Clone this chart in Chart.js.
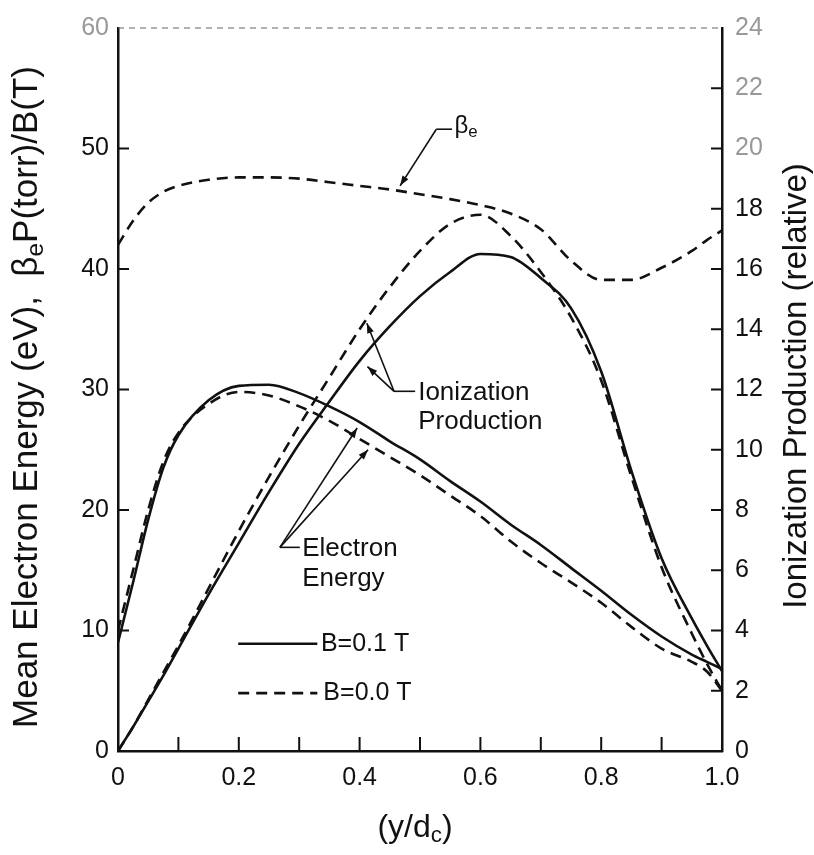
<!DOCTYPE html>
<html>
<head>
<meta charset="utf-8">
<script src="https://cdn.jsdelivr.net/npm/chart.js@4.4.1/dist/chart.umd.min.js"></script>
<style>
html, body { margin: 0; padding: 0; background: #fff; }
#wrap { width: 814px; height: 855px; }
</style>
</head>
<body>
<div id="wrap"><canvas id="chart" width="814" height="855"></canvas></div>
<script>
// positions across the channel, y/d_c
var xPos = [0, 0.025, 0.05, 0.075, 0.1, 0.15, 0.2, 0.25, 0.3, 0.35, 0.4, 0.45, 0.5, 0.55, 0.6, 0.65, 0.7, 0.75, 0.8, 0.85, 0.9, 0.95, 0.975, 1.0];

// beta_e P/B (left axis)
var betaE = [42.0, 44.0, 45.5, 46.4, 46.9, 47.4, 47.6, 47.6, 47.5, 47.2, 46.9, 46.6, 46.2, 45.8, 45.3, 44.6, 43.3, 40.7, 39.1, 39.1, 40.1, 41.5, 42.4, 43.2];

// mean electron energy, eV (left axis)
var eeB01 = [9.0, 14.0, 19.2, 23.5, 26.2, 29.1, 30.3, 30.4, 29.7, 28.6, 27.3, 25.7, 24.2, 22.4, 20.7, 18.8, 17.1, 15.2, 13.3, 11.3, 9.5, 8.0, 7.4, 6.8];
var eeB00 = [10.0, 15.0, 20.0, 24.0, 26.4, 28.8, 29.8, 29.5, 28.6, 27.4, 25.9, 24.4, 22.9, 21.2, 19.5, 17.4, 15.6, 14.0, 12.3, 10.3, 8.5, 7.4, 6.6, 5.0];

// ionization production, relative (right axis)
var ionB01 = [0, 0.8, 1.65, 2.5, 3.4, 5.2, 6.9, 8.6, 10.2, 11.6, 12.95, 14.1, 15.1, 15.9, 16.5, 16.4, 15.7, 14.7, 12.6, 9.3, 6.4, 4.4, 3.5, 2.65];
var ionB00 = [0, 0.8, 1.7, 2.6, 3.5, 5.4, 7.3, 9.1, 10.8, 12.4, 14.0, 15.4, 16.6, 17.5, 17.8, 17.1, 15.9, 14.4, 12.3, 9.1, 6.1, 3.9, 2.9, 2.0];

var legendLabels = ["B=0.1 T", "B=0.0 T"];

var FONT = "'Liberation Sans', Arial, Helvetica, sans-serif";
var INK = "#111";
var DASH = [11, 7];

function pts(ys) {
	return xPos.map(function(x, i) { return { x: x, y: ys[i] }; });
}

function line(ys, axis, dashed) {
	return {
		data: pts(ys),
		yAxisID: axis,
		borderColor: INK,
		borderWidth: 2.6,
		borderDash: dashed ? DASH : [],
		pointRadius: 0,
		fill: false,
		cubicInterpolationMode: 'monotone'
	};
}

// text with subscripts: parts = [[text, isSub], ...]
function richWidth(ctx, parts, size) {
	var w = 0;
	parts.forEach(function(p) {
		ctx.font = (p[1] ? size * 0.7 : size) + "px " + FONT;
		w += ctx.measureText(p[0]).width;
	});
	return w;
}
function drawRich(ctx, parts, x, y, size) {
	parts.forEach(function(p) {
		ctx.font = (p[1] ? size * 0.7 : size) + "px " + FONT;
		ctx.fillText(p[0], x, p[1] ? y + size * 0.25 : y);
		x += ctx.measureText(p[0]).width;
	});
}

function arrow(ctx, x1, y1, x2, y2) {
	ctx.beginPath();
	ctx.moveTo(x1, y1);
	ctx.lineTo(x2, y2);
	ctx.stroke();
	var a = Math.atan2(y2 - y1, x2 - x1), L = 10, W = 3.5;
	ctx.beginPath();
	ctx.moveTo(x2, y2);
	ctx.lineTo(x2 - L * Math.cos(a) + W * Math.sin(a), y2 - L * Math.sin(a) - W * Math.cos(a));
	ctx.lineTo(x2 - L * Math.cos(a) - W * Math.sin(a), y2 - L * Math.sin(a) + W * Math.cos(a));
	ctx.closePath();
	ctx.fill();
}

var decorations = {
	id: 'decorations',
	afterDraw: function(chart) {
		var ctx = chart.ctx, a = chart.chartArea;
		var sx = chart.scales.x, sy = chart.scales.y, s2 = chart.scales.y2;
		var X = function(v) { return sx.getPixelForValue(v); };
		var Y = function(v) { return sy.getPixelForValue(v); };
		ctx.save();

		// inward tick marks
		ctx.strokeStyle = INK;
		ctx.lineWidth = 2;
		ctx.beginPath();
		for (var i = 1; i < 10; i++) {
			var p = X(i / 10);
			ctx.moveTo(p, a.bottom); ctx.lineTo(p, a.bottom - 14);
		}
		for (var v = 10; v < 60; v += 10) {
			var q = Y(v);
			ctx.moveTo(a.left, q); ctx.lineTo(a.left + 11, q);
		}
		for (var w = 2; w < 24; w += 2) {
			var r = s2.getPixelForValue(w);
			ctx.moveTo(a.right, r); ctx.lineTo(a.right - 11, r);
		}
		ctx.stroke();

		// faint dashed top frame
		ctx.setLineDash([6, 5]);
		ctx.lineWidth = 1.2;
		ctx.strokeStyle = "#666";
		ctx.beginPath();
		ctx.moveTo(a.left, a.top); ctx.lineTo(a.right, a.top);
		ctx.stroke();
		ctx.setLineDash([]);

		// legend
		ctx.strokeStyle = INK;
		ctx.fillStyle = INK;
		ctx.lineWidth = 2.6;
		ctx.textBaseline = 'middle';
		ctx.textAlign = 'left';
		ctx.beginPath();
		ctx.moveTo(X(0.199), Y(8.9)); ctx.lineTo(X(0.330), Y(8.9));
		ctx.stroke();
		ctx.setLineDash(DASH);
		ctx.beginPath();
		ctx.moveTo(X(0.199), Y(4.8)); ctx.lineTo(X(0.330), Y(4.8));
		ctx.stroke();
		ctx.setLineDash([]);
		ctx.font = "25px " + FONT;
		ctx.fillText(legendLabels[0], X(0.336), Y(8.9));
		ctx.fillText(legendLabels[1], X(0.340), Y(4.8));

		// curve labels with leaders
		ctx.lineWidth = 1.6;
		ctx.font = "26px " + FONT;
		ctx.fillText("Ionization", X(0.497), Y(29.7));
		ctx.fillText("Production", X(0.497), Y(27.3));
		ctx.beginPath();
		ctx.moveTo(X(0.457), Y(29.85)); ctx.lineTo(X(0.492), Y(29.85));
		ctx.stroke();
		arrow(ctx, X(0.457), Y(29.85), X(0.412), Y(35.5));
		arrow(ctx, X(0.457), Y(29.85), X(0.413), Y(31.9));

		ctx.fillText("Electron", X(0.305), Y(16.75));
		ctx.fillText("Energy", X(0.305), Y(14.3));
		ctx.beginPath();
		ctx.moveTo(X(0.268), Y(16.9)); ctx.lineTo(X(0.301), Y(16.9));
		ctx.stroke();
		arrow(ctx, X(0.268), Y(16.9), X(0.396), Y(26.8));
		arrow(ctx, X(0.268), Y(16.9), X(0.414), Y(25.0));

		arrow(ctx, X(0.527), Y(51.6), X(0.467), Y(46.9));
		ctx.beginPath();
		ctx.moveTo(X(0.527), Y(51.6)); ctx.lineTo(X(0.553), Y(51.6));
		ctx.stroke();
		drawRich(ctx, [["\u03b2", false], ["e", true]], X(0.557), Y(51.8), 24);

		// axis titles
		ctx.fillStyle = INK;
		ctx.textBaseline = 'middle';
		var lt = [["Mean Electron Energy (eV),  ", false], ["\u03b2", false], ["e", true], ["P(torr)/B(T)", false]];
		ctx.save();
		ctx.translate(27, 397);
		ctx.rotate(-Math.PI / 2);
		drawRich(ctx, lt, -richWidth(ctx, lt, 35) / 2, 0, 35);
		ctx.restore();

		var rt = [["Ionization Production (relative)", false]];
		ctx.save();
		ctx.translate(797, 386);
		ctx.rotate(-Math.PI / 2);
		drawRich(ctx, rt, -richWidth(ctx, rt, 33) / 2, 0, 33);
		ctx.restore();

		var xt = [["(y/d", false], ["c", true], [")", false]];
		drawRich(ctx, xt, 415 - richWidth(ctx, xt, 32) / 2, 828, 32);

		ctx.restore();
	}
};

new Chart(document.getElementById("chart"), {
	type: 'line',
	data: {
		datasets: [
			line(betaE, 'y', true),
			line(eeB01, 'y', false),
			line(eeB00, 'y', true),
			line(ionB01, 'y2', false),
			line(ionB00, 'y2', true)
		]
	},
	options: {
		responsive: false,
		animation: false,
		layout: { padding: { top: 23, left: 0, right: 0, bottom: 0 } },
		plugins: {
			legend: { display: false },
			tooltip: { enabled: false }
		},
		scales: {
			x: {
				type: 'linear',
				min: 0,
				max: 1,
				grid: { display: false, drawTicks: false },
				border: { display: true, color: INK, width: 2.5 },
				ticks: {
					stepSize: 0.2,
					padding: 12,
					color: INK,
					font: { family: FONT, size: 25 },
					maxRotation: 0,
					callback: function(v) { return v === 0 ? '0' : v.toFixed(1); }
				},
				afterFit: function(s) { s.height = 104; }
			},
			y: {
				position: 'left',
				min: 0,
				max: 60,
				grid: { display: false, drawTicks: false },
				border: { display: true, color: INK, width: 2.5 },
				ticks: {
					stepSize: 10,
					padding: 9,
					font: { family: FONT, size: 25 },
					color: function(c) { return c.tick && c.tick.value >= 60 ? '#999' : INK; }
				},
				afterFit: function(s) { s.width = 118; }
			},
			y2: {
				position: 'right',
				min: 0,
				max: 24,
				grid: { display: false, drawTicks: false },
				border: { display: true, color: INK, width: 2.5 },
				ticks: {
					stepSize: 2,
					padding: 13,
					font: { family: FONT, size: 25 },
					color: function(c) { return c.tick && c.tick.value >= 20 ? '#999' : INK; }
				},
				afterFit: function(s) { s.width = 92; }
			}
		}
	},
	plugins: [decorations]
});
</script>
</body>
</html>
